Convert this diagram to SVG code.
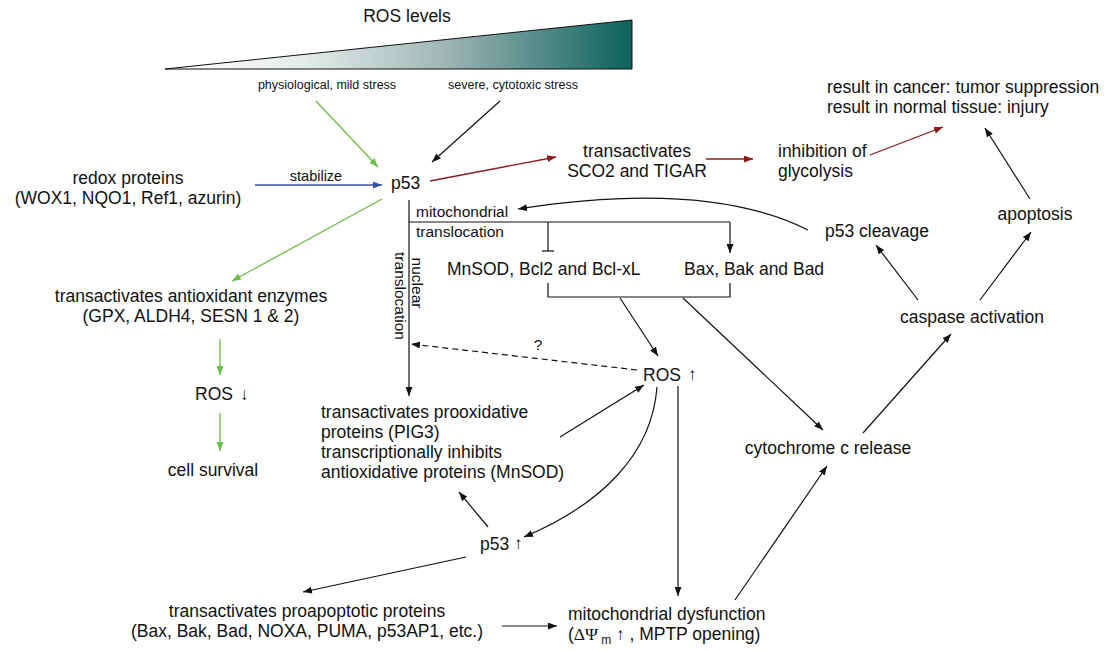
<svg xmlns="http://www.w3.org/2000/svg" width="1118" height="651" viewBox="0 0 1118 651">
<style>
text{font-family:"Liberation Sans",Arial,sans-serif;font-size:17.5px;fill:#111}
.s{font-size:12.5px}
.m{font-size:15.5px}
.c{text-anchor:middle}
.sym{font-family:"Liberation Sans",sans-serif;font-size:17px;fill:#111}
.k{stroke:#111;stroke-width:1.2;fill:none}
.g{stroke:#6cbd45;stroke-width:1.3;fill:none}
.r{stroke:#8b1a1a;stroke-width:1.3;fill:none}
.b{stroke:#3852a8;stroke-width:1.3;fill:none}
</style>
<defs>
<linearGradient id="grad" gradientUnits="userSpaceOnUse" x1="165" y1="0" x2="632" y2="0">
<stop offset="0" stop-color="#ffffff"/>
<stop offset="0.3" stop-color="#e4ebea"/>
<stop offset="0.6" stop-color="#9fb6b4"/>
<stop offset="1" stop-color="#0b625c"/>
</linearGradient>
<marker id="ak" markerUnits="userSpaceOnUse" markerWidth="9" markerHeight="7" refX="9" refY="3.5" orient="auto"><path d="M0,0 L9,3.5 L0,7 z" fill="#111"/></marker>
<marker id="ag" markerUnits="userSpaceOnUse" markerWidth="9" markerHeight="7" refX="9" refY="3.5" orient="auto"><path d="M0,0 L9,3.5 L0,7 z" fill="#6cbd45"/></marker>
<marker id="ar" markerUnits="userSpaceOnUse" markerWidth="9" markerHeight="7" refX="9" refY="3.5" orient="auto"><path d="M0,0 L9,3.5 L0,7 z" fill="#8b1a1a"/></marker>
<marker id="ab" markerUnits="userSpaceOnUse" markerWidth="9" markerHeight="7" refX="9" refY="3.5" orient="auto"><path d="M0,0 L9,3.5 L0,7 z" fill="#3852a8"/></marker>
</defs>
<rect width="1118" height="651" fill="#fff"/>

<g id="ros-levels">
<polygon points="165,69 632,20 632,69" fill="url(#grad)" stroke="#111" stroke-width="1"/>
<text x="407" y="22" class="c">ROS levels</text>
<text x="327" y="89" class="c s">physiological, mild stress</text>
<text x="513" y="89" class="c s">severe, cytotoxic stress</text>
</g>

<g id="redox"><text x="128" y="184" class="c">redox proteins</text><text x="128" y="204" class="c">(WOX1, NQO1, Ref1, azurin)</text></g>
<g id="p53"><text x="391" y="189">p53</text></g>
<g id="sco2"><text x="637" y="157" class="c">transactivates</text><text x="637" y="177" class="c">SCO2 and TIGAR</text></g>
<g id="glycolysis"><text x="778" y="157">inhibition of</text><text x="778" y="177">glycolysis</text></g>
<g id="result"><text x="827" y="93">result in cancer: tumor suppression</text><text x="827" y="113">result in normal tissue: injury</text></g>
<g id="apoptosis"><text x="1035" y="220" class="c">apoptosis</text></g>
<g id="caspase"><text x="972" y="323" class="c">caspase activation</text></g>
<g id="cleavage"><text x="877" y="237" class="c">p53 cleavage</text></g>
<g id="mnsod"><text x="447" y="275">MnSOD, Bcl2 and Bcl-xL</text></g>
<g id="bax"><text x="684" y="275">Bax, Bak and Bad</text></g>
<g id="ros-up"><text x="643" y="381">ROS</text><text x="688" y="380" class="sym">↑</text></g>
<g id="prooxidative">
<text x="321" y="418">transactivates prooxidative</text>
<text x="321" y="438">proteins (PIG3)</text>
<text x="321" y="458">transcriptionally inhibits</text>
<text x="321" y="478">antioxidative proteins (MnSOD)</text>
</g>
<g id="p53-up"><text x="480" y="550">p53</text><text x="514" y="549" class="sym">↑</text></g>
<g id="proapoptotic"><text x="307" y="617" class="c">transactivates proapoptotic proteins</text><text x="307" y="637" class="c">(Bax, Bak, Bad, NOXA, PUMA, p53AP1, etc.)</text></g>
<g id="mito-dysfunction"><text x="568" y="620">mitochondrial dysfunction</text><text x="568" y="640">(<tspan font-family="Liberation Serif" fill="#111">ΔΨ</tspan><tspan dy="4" font-size="12"> m</tspan><tspan dy="-4" class="sym"> ↑</tspan> , MPTP opening)</text></g>
<g id="cytochrome"><text x="828" y="454" class="c">cytochrome c release</text></g>
<g id="antioxidant"><text x="191" y="302" class="c">transactivates antioxidant enzymes</text><text x="191" y="322" class="c">(GPX, ALDH4, SESN 1 &amp; 2)</text></g>
<g id="ros-down"><text x="195" y="400">ROS</text><text x="240" y="400" class="sym">↓</text></g>
<g id="survival"><text x="213" y="476" class="c">cell survival</text></g>

<g id="connectors">
<line x1="316" y1="101" x2="378" y2="167" class="g" marker-end="url(#ag)"/>
<line x1="500" y1="101" x2="432" y2="162" class="k" marker-end="url(#ak)"/>
<line x1="255" y1="185" x2="382" y2="185" class="b" marker-end="url(#ab)"/>
<text x="316" y="181" class="c m" style="font-size:14.5px">stabilize</text>
<line x1="430" y1="181" x2="556" y2="157" class="r" marker-end="url(#ar)"/>
<line x1="706" y1="159" x2="753" y2="159" class="r" marker-end="url(#ar)"/>
<line x1="870" y1="155" x2="943" y2="127" class="r" marker-end="url(#ar)"/>
<line x1="1030" y1="199" x2="985" y2="128" class="k" marker-end="url(#ak)"/>
<line x1="980" y1="300" x2="1031" y2="232" class="k" marker-end="url(#ak)"/>
<line x1="918" y1="300" x2="876" y2="245" class="k" marker-end="url(#ak)"/>
<path d="M808,230 C740,196 640,190 518,209" class="k" marker-end="url(#ak)"/>
<line x1="409" y1="200" x2="409" y2="396" class="k" marker-end="url(#ak)"/>
<line x1="409" y1="222" x2="730" y2="222" class="k"/>
<line x1="548" y1="222" x2="548" y2="251" class="k"/>
<line x1="542" y1="251" x2="554" y2="251" class="k"/>
<line x1="730" y1="222" x2="730" y2="253" class="k" marker-end="url(#ak)"/>
<text x="416" y="217" class="m">mitochondrial</text>
<text x="416" y="237" class="m">translocation</text>
<text transform="translate(412,283) rotate(90)" class="c m">nuclear</text>
<text transform="translate(395,296) rotate(90)" class="c m">translocation</text>
<polyline points="548,283 548,297 730,297 730,283" class="k"/>
<line x1="620" y1="298" x2="658" y2="356" class="k" marker-end="url(#ak)"/>
<line x1="683" y1="298" x2="823" y2="430" class="k" marker-end="url(#ak)"/>
<line x1="637" y1="370" x2="411" y2="344" class="k" stroke-dasharray="6,4" marker-end="url(#ak)"/>
<text x="538" y="350" class="c m">?</text>
<line x1="560" y1="437" x2="644" y2="385" class="k" marker-end="url(#ak)"/>
<path d="M657,387 C652,455 600,505 524,537" class="k" marker-end="url(#ak)"/>
<line x1="678" y1="386" x2="678" y2="596" class="k" marker-end="url(#ak)"/>
<line x1="488" y1="527" x2="459" y2="492" class="k" marker-end="url(#ak)"/>
<line x1="466" y1="557" x2="303" y2="592" class="k" marker-end="url(#ak)"/>
<line x1="502" y1="626" x2="557" y2="626" class="k" marker-end="url(#ak)"/>
<line x1="735" y1="600" x2="827" y2="466" class="k" marker-end="url(#ak)"/>
<line x1="863" y1="433" x2="951" y2="334" class="k" marker-end="url(#ak)"/>
<line x1="382" y1="199" x2="232" y2="281" class="g" marker-end="url(#ag)"/>
<line x1="220" y1="339" x2="220" y2="375" class="g" marker-end="url(#ag)"/>
<line x1="220" y1="413" x2="220" y2="451" class="g" marker-end="url(#ag)"/>
</g>
</svg>
